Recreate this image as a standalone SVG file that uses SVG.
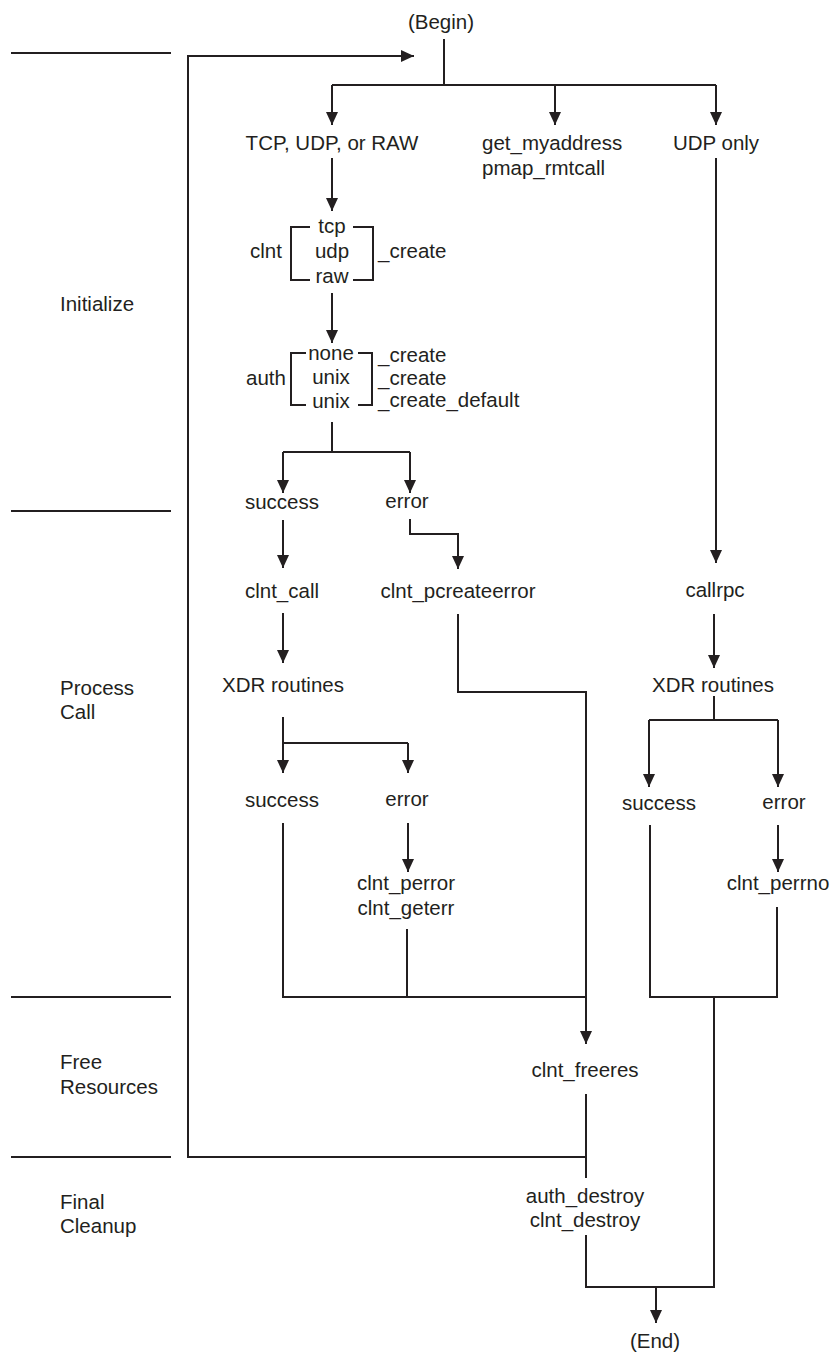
<svg xmlns="http://www.w3.org/2000/svg" width="835" height="1357" viewBox="0 0 835 1357">
<style>
text{font-family:"Liberation Sans",Arial,Helvetica,sans-serif;font-size:20.5px;fill:#231f20}
.m{text-anchor:middle}
.ln{stroke:#231f20;stroke-width:2;fill:none}
.a{marker-end:url(#ah)}
</style>
<defs>
<marker id="ah" markerUnits="userSpaceOnUse" markerWidth="13" markerHeight="12" refX="13" refY="6" orient="auto">
<path d="M0,0 L13,6 L0,12 z" fill="#231f20"/>
</marker>
</defs>
<rect width="835" height="1357" fill="#fff"/>

<g id="lanes">
<path class="ln" d="M11,53 H171 M11,511 H171 M11,997 H171 M11,1157 H171"/>
<text x="60" y="311">Initialize</text>
<text x="60" y="695">Process</text>
<text x="60" y="719">Call</text>
<text x="60" y="1069">Free</text>
<text x="60" y="1094">Resources</text>
<text x="60" y="1209">Final</text>
<text x="60" y="1233">Cleanup</text>
</g>

<g id="begin"><text class="m" x="441" y="29">(Begin)</text></g>
<g id="tcpudpraw"><text class="m" x="332" y="150">TCP, UDP, or RAW</text></g>
<g id="getmyaddress"><text x="482" y="150">get_myaddress</text><text x="482" y="175">pmap_rmtcall</text></g>
<g id="udponly"><text class="m" x="716" y="150">UDP only</text></g>

<g id="clntcreate">
<text x="250" y="258">clnt</text>
<text class="m" x="332" y="233">tcp</text>
<text class="m" x="332" y="258">udp</text>
<text class="m" x="332" y="283">raw</text>
<text x="378" y="258">_create</text>
<path class="ln" d="M310,227 H291 V280 H310 M353,227 H373 V280 H353"/>
</g>

<g id="authcreate">
<text x="246" y="385">auth</text>
<text class="m" x="331" y="360">none</text>
<text class="m" x="331" y="384">unix</text>
<text class="m" x="331" y="408">unix</text>
<text x="378" y="362">_create</text>
<text x="378" y="385">_create</text>
<text x="378" y="407">_create_default</text>
<path class="ln" d="M306,353 H291 V405 H306 M358,353 H372 V405 H358"/>
</g>

<g id="success1"><text class="m" x="282" y="509">success</text></g>
<g id="error1"><text class="m" x="407" y="508">error</text></g>
<g id="clntcall"><text class="m" x="282" y="598">clnt_call</text></g>
<g id="pcreateerror"><text class="m" x="458" y="598">clnt_pcreateerror</text></g>
<g id="xdr1"><text class="m" x="283" y="692">XDR routines</text></g>
<g id="success2"><text class="m" x="282" y="807">success</text></g>
<g id="error2"><text class="m" x="407" y="806">error</text></g>
<g id="perror"><text class="m" x="406" y="890">clnt_perror</text><text class="m" x="406" y="915">clnt_geterr</text></g>

<g id="callrpc"><text class="m" x="715" y="597">callrpc</text></g>
<g id="xdr2"><text class="m" x="713" y="692">XDR routines</text></g>
<g id="success3"><text class="m" x="659" y="810">success</text></g>
<g id="error3"><text class="m" x="784" y="809">error</text></g>
<g id="perrno"><text class="m" x="778" y="890">clnt_perrno</text></g>

<g id="freeres"><text class="m" x="585" y="1077">clnt_freeres</text></g>
<g id="destroy"><text class="m" x="585" y="1203">auth_destroy</text><text class="m" x="585" y="1227">clnt_destroy</text></g>
<g id="end"><text class="m" x="655" y="1348">(End)</text></g>

<g id="connectors">
<path class="ln" d="M444,39 V85 M332,85 H716"/>
<path class="ln a" d="M332,85 V125"/>
<path class="ln a" d="M555,85 V125"/>
<path class="ln a" d="M716,85 V125"/>
<path class="ln a" d="M586,1157 H188 V56 H414"/>
<path class="ln a" d="M332,158 V211"/>
<path class="ln a" d="M332,293 V343"/>
<path class="ln" d="M332,422 V452 M283,452 H410"/>
<path class="ln a" d="M283,452 V493"/>
<path class="ln a" d="M410,452 V493"/>
<path class="ln a" d="M410,519 V534 H458 V569"/>
<path class="ln a" d="M283,520 V568"/>
<path class="ln a" d="M283,613 V663"/>
<path class="ln a" d="M458,614 V692 H586 V1044"/>
<path class="ln a" d="M283,717 V773"/>
<path class="ln" d="M283,743 H408"/>
<path class="ln a" d="M408,743 V773"/>
<path class="ln a" d="M408,823 V872"/>
<path class="ln" d="M283,823 V997 H586 M407,929 V997"/>
<path class="ln" d="M586,1094 V1178"/>
<path class="ln a" d="M716,158 V563"/>
<path class="ln a" d="M714,614 V668"/>
<path class="ln" d="M714,696 V720 M649,720 H778"/>
<path class="ln a" d="M649,720 V787"/>
<path class="ln a" d="M778,720 V787"/>
<path class="ln a" d="M778,825 V872"/>
<path class="ln" d="M650,825 V997 H777 V907 M714,997 V1287 H586 V1235"/>
<path class="ln a" d="M656,1287 V1323"/>
</g>
</svg>
